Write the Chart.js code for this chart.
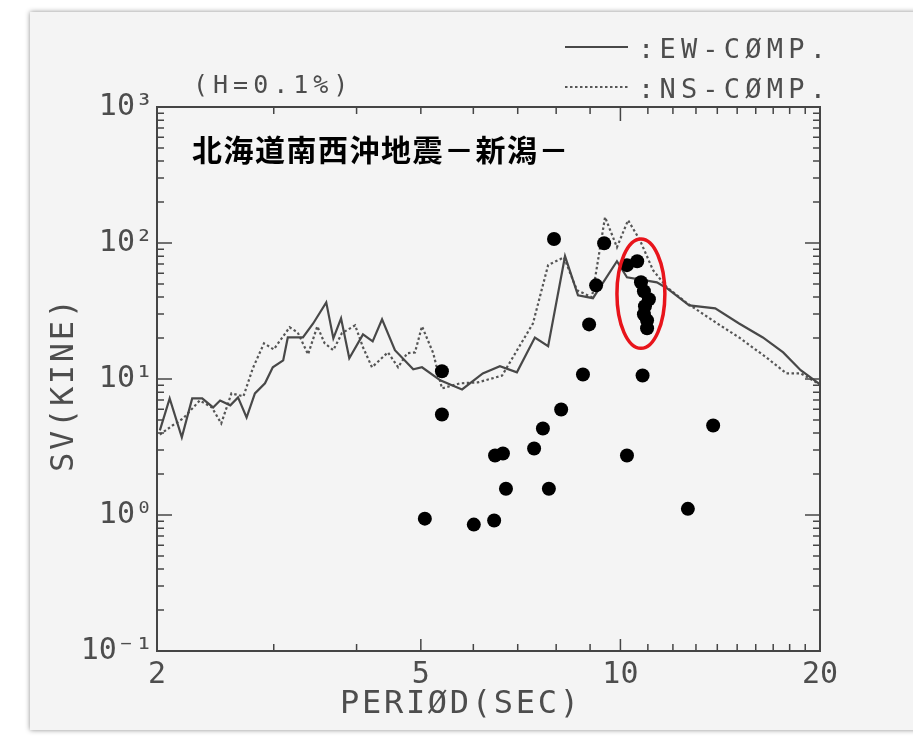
<!DOCTYPE html>
<html>
<head>
<meta charset="utf-8">
<script src="https://cdn.jsdelivr.net/npm/chart.js@4/dist/chart.umd.min.js"></script>
<style>
  body { margin: 0; background: #fff; }
  .panel { position: absolute; left: 30px; top: 12px; width: 890px; height: 718px; background: #f4f4f4; box-shadow: 0 0 5px rgba(0,0,0,0.45); }
  #svChart { position: absolute; left: 0; top: 0; }
</style>
</head>
<body>
<div class="panel"></div>
<canvas id="svChart" width="913" height="741"></canvas>
<script>
// EW component (solid)
const ewPeriod = [2.02, 2.09, 2.18, 2.26, 2.34, 2.43, 2.49, 2.58, 2.65, 2.73, 2.81, 2.91, 2.99, 3.10, 3.15, 3.32, 3.44, 3.60, 3.69, 3.79, 3.90, 4.09, 4.23, 4.37, 4.57, 4.87, 5.02, 5.35, 5.57, 5.77, 6.20, 6.58, 6.98, 7.43, 7.78, 8.25, 8.63, 9.09, 9.88, 10.23, 11.35, 11.75, 12.7, 13.9, 15.1, 16.4, 17.6, 18.7, 20];
const ewSV = [4.19, 7.2, 3.72, 7.2, 7.2, 6.18, 6.95, 6.4, 7.32, 5.21, 7.84, 9.29, 12.2, 13.7, 20.2, 20.2, 25.6, 36.6, 19.9, 27.9, 14.2, 21.3, 18.9, 27.5, 16.3, 11.8, 12.2, 9.77, 8.98, 8.38, 11.0, 12.4, 11.2, 20.2, 17.4, 80.0, 41.3, 39.3, 73.5, 56.0, 51.4, 46.5, 34.8, 33.1, 25.6, 20.2, 15.7, 11.6, 9.12];

// NS component (dotted)
const nsPeriod = [2.02, 2.11, 2.19, 2.32, 2.42, 2.50, 2.59, 2.70, 2.79, 2.90, 3.00, 3.17, 3.26, 3.38, 3.49, 3.58, 3.69, 3.80, 3.98, 4.09, 4.22, 4.46, 4.62, 4.77, 4.90, 5.02, 5.22, 5.38, 5.73, 6.10, 6.63, 7.38, 7.78, 8.22, 8.60, 9.06, 9.48, 9.88, 10.27, 10.7, 11.2, 11.75, 12.6, 14.0, 15.1, 16.6, 17.8, 18.7, 20];
const nsSV = [3.9, 4.55, 5.13, 6.95, 6.18, 4.71, 7.84, 7.45, 12.0, 18.3, 16.5, 24.0, 22.0, 15.2, 24.4, 18.3, 16.3, 21.7, 24.8, 17.1, 12.2, 15.7, 12.2, 15.5, 15.7, 24.4, 15.5, 8.53, 9.29, 9.45, 10.6, 25.6, 68.8, 78.5, 44.9, 39.9, 155, 93.1, 147, 105, 63.1, 47.3, 36.1, 25.6, 20.2, 14.4, 11.0, 11.0, 9.12];

// observed points (black dots)
const obsPeriod = [7.94, 9.45, 9.19, 8.97, 5.38, 5.38, 8.78, 10.8, 8.14, 7.64, 13.8, 7.41, 6.47, 6.65, 10.23, 6.72, 7.80, 12.64, 5.07, 6.01, 6.45, 10.23, 10.6, 10.74, 10.85, 11.04, 10.89, 10.85, 10.97, 10.97];
const obsSV = [107, 99.7, 48.8, 25.2, 11.4, 5.48, 10.8, 10.6, 5.97, 4.33, 4.55, 3.08, 2.74, 2.83, 2.74, 1.56, 1.56, 1.11, 0.94, 0.85, 0.91, 68.7, 73.5, 51.4, 44.2, 38.6, 34.3, 29.9, 27.0, 23.6];

// tick labels
const xTicks = [2, 5, 10, 20];
const yTicks = [0.1, 1, 10, 100, 1000];
const yTickLabels = ['10\u207B\u00B9', '10\u2070', '10\u00B9', '10\u00B2', '10\u00B3'];

// red ring around the cluster (period range, SV range)
const ringPeriod = [9.88, 11.67];
const ringSV = [16.8, 107];

const plotter = 'DejaVu Sans Mono';
const grey = '#4d4d4d';

function pairs(xs, ys) {
    return xs.map((x, i) => ({ x: x, y: ys[i] }));
}

function spacedText(ctx, text, x, y, size, spacing) {
    ctx.font = size + 'px "' + plotter + '"';
    ctx.letterSpacing = spacing + 'px';
    ctx.fillText(text, x, y);
    ctx.letterSpacing = '0px';
}

const framePlugin = {
    id: 'frame',
    afterDatasetsDraw(chart) {
        const ctx = chart.ctx;
        const a = chart.chartArea;
        const xs = chart.scales.x, ys = chart.scales.y;
        ctx.save();

        // red ring
        const x0 = xs.getPixelForValue(ringPeriod[0]), x1 = xs.getPixelForValue(ringPeriod[1]);
        const y0 = ys.getPixelForValue(ringSV[0]), y1 = ys.getPixelForValue(ringSV[1]);
        ctx.strokeStyle = '#e8141b';
        ctx.lineWidth = 3.5;
        ctx.beginPath();
        ctx.ellipse((x0 + x1) / 2, (y0 + y1) / 2, Math.abs(x1 - x0) / 2, Math.abs(y1 - y0) / 2, 0, 0, Math.PI * 2);
        ctx.stroke();

        // frame
        ctx.strokeStyle = '#454545';
        ctx.lineWidth = 2;
        ctx.strokeRect(a.left, a.top, a.right - a.left, a.bottom - a.top);

        // inward ticks
        ctx.lineWidth = 1.5;
        ctx.beginPath();
        for (let p = 2; p <= 20; p++) {
            const px = xs.getPixelForValue(p);
            const big = (p === 5 || p === 10);
            ctx.moveTo(px, a.bottom); ctx.lineTo(px, a.bottom - (big ? 12 : 7));
            ctx.moveTo(px, a.top); ctx.lineTo(px, a.top + (p === 10 ? 14 : 7));
        }
        for (let e = -1; e <= 2; e++) {
            for (let k = 1; k <= 9; k++) {
                const py = ys.getPixelForValue(k * Math.pow(10, e));
                const len = k === 1 ? 15 : 7;
                ctx.moveTo(a.left, py); ctx.lineTo(a.left + len, py);
                ctx.moveTo(a.right, py); ctx.lineTo(a.right - len, py);
            }
        }
        ctx.stroke();
        ctx.restore();
    },
    afterDraw(chart) {
        const ctx = chart.ctx;
        ctx.save();
        ctx.fillStyle = grey;
        ctx.textAlign = 'left';
        ctx.textBaseline = 'alphabetic';

        spacedText(ctx, '(H=0.1%)', 193, 93, 25, 5);

        // legend
        const ew = chart.data.datasets[1], ns = chart.data.datasets[2];
        ctx.lineWidth = ew.borderWidth;
        ctx.strokeStyle = ew.borderColor;
        ctx.beginPath(); ctx.moveTo(565, 47); ctx.lineTo(628, 47); ctx.stroke();
        ctx.lineWidth = ns.borderWidth;
        ctx.strokeStyle = ns.borderColor;
        ctx.setLineDash(ns.borderDash);
        ctx.beginPath(); ctx.moveTo(565, 87); ctx.lineTo(628, 87); ctx.stroke();
        ctx.setLineDash([]);
        spacedText(ctx, ':EW-C\u00D8MP.', 638, 58, 27, 5.2);
        spacedText(ctx, ':NS-C\u00D8MP.', 638, 98, 27, 5.2);

        // axis titles
        spacedText(ctx, 'PERI\u00D8D(SEC)', 340, 713, 32, 2.7);
        ctx.save();
        ctx.translate(73, 472);
        ctx.rotate(-Math.PI / 2);
        spacedText(ctx, 'SV(KINE)', 0, 0, 32, 2.7);
        ctx.restore();

        // Japanese caption
        ctx.fillStyle = '#000';
        ctx.textBaseline = 'middle';
        ctx.font = 'bold 30px "Noto Sans CJK JP"';
        ctx.letterSpacing = '1.5px';
        ctx.fillText('北海道南西沖地震－新潟－', 192, 150);
        ctx.letterSpacing = '0px';
        ctx.restore();
    }
};

new Chart(document.getElementById('svChart'), {
    type: 'scatter',
    data: {
        datasets: [{
            label: 'observed',
            data: pairs(obsPeriod, obsSV),
            pointRadius: 7,
            pointBackgroundColor: '#000',
            pointBorderWidth: 0,
            order: 0
        }, {
            label: 'EW-COMP.',
            data: pairs(ewPeriod, ewSV),
            showLine: true,
            borderColor: '#484848',
            borderWidth: 2.2,
            pointRadius: 0,
            order: 1
        }, {
            label: 'NS-COMP.',
            data: pairs(nsPeriod, nsSV),
            showLine: true,
            borderColor: '#555555',
            borderWidth: 2.2,
            borderDash: [2.5, 2.5],
            pointRadius: 0,
            order: 2
        }]
    },
    options: {
        responsive: false,
        animation: false,
        layout: { padding: { top: 107, right: 93, left: 0, bottom: 0 } },
        plugins: {
            legend: { display: false },
            tooltip: { enabled: false }
        },
        scales: {
            x: {
                type: 'logarithmic',
                min: 2,
                max: 20,
                grid: { display: false, drawTicks: false },
                border: { display: false },
                afterBuildTicks: s => { s.ticks = xTicks.map(v => ({ value: v })); },
                afterFit: s => { s.height = 90; },
                ticks: {
                    autoSkip: false,
                    maxRotation: 0,
                    padding: 6,
                    color: grey,
                    font: { family: plotter, size: 30 },
                    callback: (v, i) => String(xTicks[i])
                }
            },
            y: {
                type: 'logarithmic',
                min: 0.1,
                max: 1000,
                grid: { display: false, drawTicks: false },
                border: { display: false },
                afterBuildTicks: s => { s.ticks = yTicks.map(v => ({ value: v })); },
                afterFit: s => { s.width = 157; },
                ticks: {
                    autoSkip: false,
                    padding: 4,
                    color: grey,
                    font: { family: plotter, size: 30 },
                    callback: (v, i) => yTickLabels[i]
                }
            }
        }
    },
    plugins: [framePlugin]
});
</script>
</body>
</html>
